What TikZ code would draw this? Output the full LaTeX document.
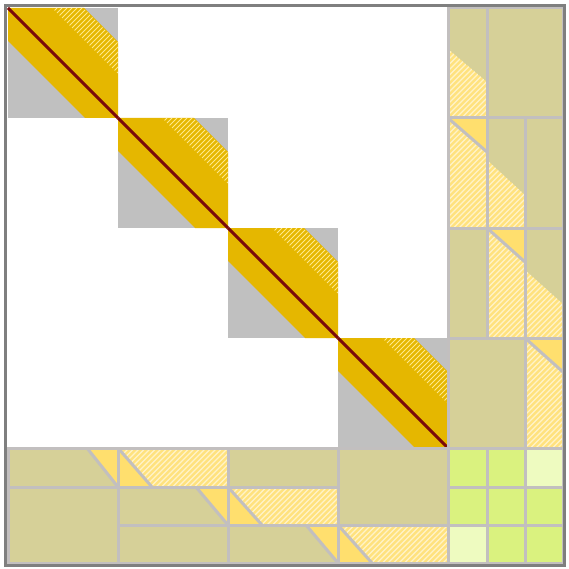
\documentclass[tikz,border=0pt]{standalone}
\definecolor{khaki}{HTML}{D6D098}
\definecolor{gold}{HTML}{E5B700}
\definecolor{blockgray}{HTML}{C0C0C0}
\definecolor{gridgray}{HTML}{C2BFBF}
\definecolor{framegray}{HTML}{7F7F7F}
\definecolor{darkred}{HTML}{7A0A0A}
\definecolor{syellow}{HTML}{FFDF6E}
\definecolor{hyellow}{HTML}{FFE27E}
\definecolor{hstripec}{HTML}{FFF3C8}
\definecolor{dstripec}{HTML}{FFE98A}
\definecolor{lime}{HTML}{DAF27F}
\definecolor{lightlime}{HTML}{EEFBC0}
\tikzset{
  kfill/.style={fill=khaki},
  sfill/.style={fill=syellow},
  gline/.style={draw=gridgray, line width=3pt},
  hstripe/.style={draw=hstripec, line width=1.1pt},
  dstripe/.style={draw=dstripec, line width=1pt},
  redline/.style={draw=darkred, line width=3pt},
}
\newcommand\stripes[6]{%
  \pgfmathsetmacro\hh{#5-#3}%
  \pgfmathsetmacro\ks{#2-\hh}%
  \pgfmathsetmacro\kn{\ks+#6}%
  \foreach \kk in {\ks,\kn,...,#4} {\draw[#1] (\kk,#5) -- ++(\hh,-\hh);}%
}
\newcommand\hatcharea[5]{%
  \begin{scope}
    \clip #1;
    \fill[hyellow] #1;
    \stripes{hstripe}{#2}{#3}{#4}{#5}{5.5}
  \end{scope}}
\newcommand\dblock[1]{%
  \begin{scope}[shift={(#1,#1)}]
    \fill[blockgray] (0,0) rectangle (110,110);
    \fill[gold] (0,0) -- (76,0) -- (110,34) -- (110,110) -- (77,110) -- (0,33) -- cycle;
    \begin{scope}
      \clip (44,0) -- (75,0) -- (110,35) -- (110,66) -- cycle;
      \stripes{dstripe}{44}{0}{110}{66}{5}
    \end{scope}
    \draw[redline] (0,0) -- (110,110);
  \end{scope}}
\begin{document}
\begin{tikzpicture}[x=1pt,y=-1pt]
\useasboundingbox (0,0) rectangle (568,569);
\fill[white] (0,0) rectangle (568,569);
% diagonal blocks
\dblock{8}
\dblock{118}
\dblock{228}
\dblock{338}
% right column
\fill[kfill] (448,8) rectangle (487,118);
\hatcharea{(448,49)--(487,82)--(487,118)--(448,118)--cycle}{448}{49}{487}{118}
\fill[kfill] (487,8) rectangle (563,118);
\hatcharea{(448,118)--(487,118)--(487,228)--(448,228)--cycle}{448}{118}{487}{228}
\fill[sfill] (448,118)--(487,118)--(487,152)--cycle;
\draw[gline] (448,118)--(487,152);
\fill[kfill] (487,118) rectangle (525,228);
\hatcharea{(487,160)--(525,195)--(525,228)--(487,228)--cycle}{487}{160}{525}{228}
\fill[kfill] (525,118) rectangle (563,228);
\fill[kfill] (448,228) rectangle (487,338);
\hatcharea{(487,228)--(525,228)--(525,338)--(487,338)--cycle}{487}{228}{525}{338}
\fill[sfill] (487,228)--(525,228)--(525,262)--cycle;
\draw[gline] (487,228)--(525,262);
\fill[kfill] (525,228) rectangle (563,338);
\hatcharea{(525,270)--(563,304)--(563,338)--(525,338)--cycle}{525}{270}{563}{338}
\fill[kfill] (448,338) rectangle (525,448);
\hatcharea{(525,338)--(563,338)--(563,448)--(525,448)--cycle}{525}{338}{563}{448}
\fill[sfill] (525,338)--(563,338)--(563,372)--cycle;
\draw[gline] (525,338)--(563,372);
% bottom row
\fill[kfill] (8,448) rectangle (118,487);
\fill[sfill] (87,448)--(118,448)--(118,487)--cycle;
\draw[gline] (87,448)--(118,487);
\fill[kfill] (8,487) rectangle (118,563);
\hatcharea{(118,448)--(228,448)--(228,487)--(118,487)--cycle}{118}{448}{228}{487}
\fill[sfill] (118,448)--(118,487)--(152,487)--cycle;
\draw[gline] (118,448)--(152,487);
\fill[kfill] (118,487) rectangle (228,525);
\fill[sfill] (196,487)--(228,487)--(228,525)--cycle;
\draw[gline] (196,487)--(228,525);
\fill[kfill] (118,525) rectangle (228,563);
\fill[kfill] (228,448) rectangle (338,487);
\hatcharea{(228,487)--(338,487)--(338,525)--(228,525)--cycle}{228}{487}{338}{525}
\fill[sfill] (228,487)--(228,525)--(262,525)--cycle;
\draw[gline] (228,487)--(262,525);
\fill[kfill] (228,525) rectangle (338,563);
\fill[sfill] (306,525)--(338,525)--(338,563)--cycle;
\draw[gline] (306,525)--(338,563);
\fill[kfill] (338,448) rectangle (448,525);
\hatcharea{(338,525)--(448,525)--(448,563)--(338,563)--cycle}{338}{525}{448}{563}
\fill[sfill] (338,525)--(338,563)--(372,563)--cycle;
\draw[gline] (338,525)--(372,563);
% corner block
\fill[lime] (448,448) rectangle (563,563);
\fill[lightlime] (525,448) rectangle (563,487);
\fill[lightlime] (448,525) rectangle (487,563);
% grid outlines
\draw[gline] (448,8) rectangle (487,118);
\draw[gline] (487,8) rectangle (563,118);
\draw[gline] (448,118) rectangle (487,228);
\draw[gline] (487,118) rectangle (525,228);
\draw[gline] (525,118) rectangle (563,228);
\draw[gline] (448,228) rectangle (487,338);
\draw[gline] (487,228) rectangle (525,338);
\draw[gline] (525,228) rectangle (563,338);
\draw[gline] (448,338) rectangle (525,448);
\draw[gline] (525,338) rectangle (563,448);
\draw[gline] (8,448) rectangle (118,487);
\draw[gline] (8,487) rectangle (118,563);
\draw[gline] (118,448) rectangle (228,487);
\draw[gline] (118,487) rectangle (228,525);
\draw[gline] (118,525) rectangle (228,563);
\draw[gline] (228,448) rectangle (338,487);
\draw[gline] (228,487) rectangle (338,525);
\draw[gline] (228,525) rectangle (338,563);
\draw[gline] (338,448) rectangle (448,525);
\draw[gline] (338,525) rectangle (448,563);
\foreach \xa/\xb in {448/487,487/525,525/563}
  \foreach \ya/\yb in {448/487,487/525,525/563}
    \draw[gline] (\xa,\ya) rectangle (\xb,\yb);
% frame
\draw[framegray, line width=3.5pt] (5.5,5.5) rectangle (564.5,565.5);
\end{tikzpicture}
\end{document}
